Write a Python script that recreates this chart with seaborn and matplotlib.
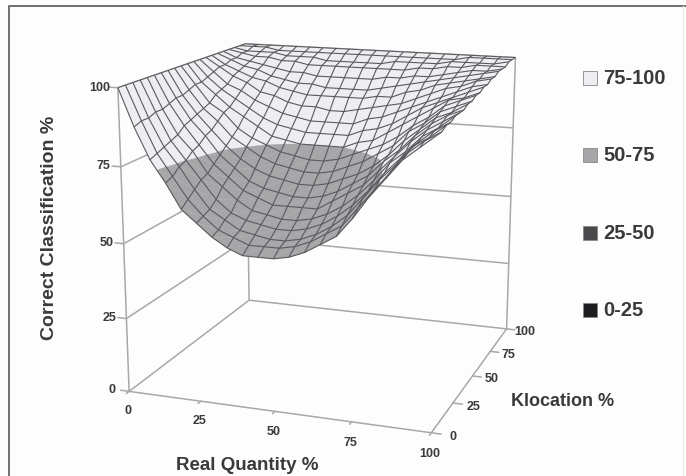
import numpy as np
import pandas as pd
import matplotlib
matplotlib.use("Agg")
import matplotlib.pyplot as plt
from matplotlib.lines import Line2D
from matplotlib.patches import Rectangle
from mpl_toolkits.mplot3d.art3d import Poly3DCollection
import seaborn as sns

sns.set_style("white")
plt.rcParams["font.family"] = ["Liberation Sans", "DejaVu Sans"]

real_quantity = [0, 5, 10, 15, 20, 25, 30, 35, 40, 45, 50, 55, 60, 65, 70, 75, 80, 85, 90, 95, 100]
klocation = [0, 5, 10, 15, 20, 25, 30, 35, 40, 45, 50, 55, 60, 65, 70, 75, 80, 85, 90, 95, 100]

# one row per klocation value
correct_pct = [
    [100, 88, 78, 71, 63, 59, 55, 52, 50, 50, 50, 51, 53, 56, 59, 65, 72, 78, 84, 88, 92],
    [100, 89, 79, 72, 65, 60, 56, 54, 52, 52, 52, 53, 55, 58, 61, 67, 73, 79, 85, 89, 92],
    [100, 89, 80, 74, 67, 61, 58, 55, 54, 53, 53, 54, 56, 59, 63, 69, 75, 80, 86, 89, 93],
    [100, 90, 81, 75, 69, 63, 59, 57, 56, 55, 55, 56, 58, 61, 65, 70, 76, 81, 86, 90, 93],
    [100, 90, 82, 77, 70, 66, 62, 59, 58, 57, 57, 58, 60, 63, 67, 72, 78, 82, 87, 90, 94],
    [100, 91, 84, 78, 72, 68, 64, 62, 60, 60, 60, 60, 63, 66, 69, 74, 79, 84, 88, 91, 94],
    [100, 92, 85, 80, 74, 70, 66, 64, 63, 62, 62, 63, 65, 68, 71, 76, 80, 85, 89, 92, 94],
    [100, 92, 86, 81, 76, 72, 69, 67, 66, 65, 65, 66, 68, 70, 73, 77, 82, 86, 90, 92, 95],
    [100, 93, 87, 83, 78, 75, 72, 70, 69, 68, 68, 69, 71, 73, 76, 79, 84, 87, 91, 93, 95],
    [100, 94, 88, 85, 80, 77, 75, 73, 72, 71, 71, 72, 74, 76, 78, 81, 85, 88, 92, 94, 96],
    [100, 94, 90, 86, 83, 80, 77, 76, 75, 75, 75, 75, 77, 78, 81, 84, 87, 90, 93, 94, 96],
    [100, 95, 91, 88, 85, 82, 80, 79, 78, 78, 78, 78, 80, 81, 83, 86, 89, 91, 93, 95, 97],
    [100, 96, 92, 90, 87, 85, 83, 82, 81, 81, 81, 81, 83, 84, 86, 88, 90, 92, 94, 96, 97],
    [100, 97, 94, 92, 89, 88, 86, 85, 85, 84, 84, 85, 86, 87, 88, 90, 92, 94, 95, 97, 98],
    [100, 97, 95, 93, 92, 90, 89, 88, 88, 88, 88, 88, 89, 89, 91, 92, 94, 95, 96, 97, 98],
    [100, 98, 96, 95, 93, 92, 91, 91, 90, 90, 90, 90, 91, 92, 93, 94, 95, 96, 97, 98, 99],
    [100, 98, 97, 96, 95, 94, 94, 93, 93, 93, 93, 93, 94, 94, 95, 95, 96, 97, 98, 98, 99],
    [100, 99, 98, 98, 97, 97, 96, 96, 96, 96, 96, 96, 96, 96, 97, 97, 98, 98, 99, 99, 99],
    [100, 99, 99, 99, 98, 98, 98, 97, 97, 97, 97, 97, 98, 98, 98, 98, 99, 99, 99, 99, 100],
    [100, 100, 100, 99, 99, 99, 99, 99, 99, 99, 99, 99, 99, 99, 99, 99, 99, 100, 100, 100, 100],
    [100, 100, 100, 100, 100, 100, 100, 100, 100, 100, 100, 100, 100, 100, 100, 100, 100, 100, 100, 100, 100],
]

x_ticks = [0, 25, 50, 75, 100]
y_ticks = [0, 25, 50, 75, 100]
z_ticks = [0, 25, 50, 75, 100]
band_labels = ["75-100", "50-75", "25-50", "0-25"]
band_colors = ["#eeeef2", "#a6a6a8", "#4a4a4c", "#1c1c1e"]
text_color = "#3a3a3a"


def split_cell(corners, level):
    # cut one mesh cell along a z level, returns part above and part below
    above, below = [], []
    for i in range(len(corners)):
        p, q = np.array(corners[i]), np.array(corners[(i + 1) % len(corners)])
        if p[2] >= level:
            above.append(p)
        if p[2] <= level:
            below.append(p)
        if (p[2] - level) * (q[2] - level) < 0:
            cut = p + (q - p) * (level - p[2]) / (q[2] - p[2])
            above.append(cut)
            below.append(cut)
    return above, below


def fan(points):
    return [[points[0], points[k], points[k + 1]] for k in range(1, len(points) - 1)]


def draw_surface(ax, df):
    table = df.pivot(index="klocation", columns="quantity", values="correct")
    X, Y = np.meshgrid(table.columns.values, table.index.values)
    Z = table.values.astype(float)

    polys, colors = [], []
    for j in range(Z.shape[0] - 1):
        for i in range(Z.shape[1] - 1):
            cell = [(X[j, i], Y[j, i], Z[j, i]), (X[j, i + 1], Y[j, i + 1], Z[j, i + 1]),
                    (X[j + 1, i + 1], Y[j + 1, i + 1], Z[j + 1, i + 1]), (X[j + 1, i], Y[j + 1, i], Z[j + 1, i])]
            above, below = split_cell(cell, 75)
            for part, color in ((above, band_colors[0]), (below, band_colors[1])):
                if len(part) > 2:
                    tris = fan(part)
                    polys += tris
                    colors += [color] * len(tris)
    ax.add_collection3d(Poly3DCollection(polys, facecolors=colors, edgecolors=colors, linewidths=0.2, zorder=3))
    ax.plot_wireframe(X, Y, Z, rstride=1, cstride=1, color="#5a5a5e", linewidth=0.8, zorder=4)


def draw_box(ax):
    line = dict(color="#a8a8a8", linewidth=1.1, zorder=1)
    for z in z_ticks:
        ax.plot([0, 0, 100], [0, 100, 100], [z, z, z], **line)
    ax.plot([0, 0], [0, 0], [0, 100], **line)
    ax.plot([0, 0], [100, 100], [0, 100], **line)
    ax.plot([100, 100], [100, 100], [0, 100], **line)
    ax.plot([0, 100, 100], [0, 0, 100], [0, 0, 0], **line)

    tick = dict(fontsize=9, fontweight="bold", color=text_color, ha="center", va="center")
    for v in x_ticks:
        ax.plot([v, v], [0, -2], [0, 0], **line)
        ax.text(v, -1.5, -6, str(v), **tick)
    for v in y_ticks:
        ax.plot([100, 103], [v, v], [0, 0], **line)
        ax.text(106.5, v, 0, str(v), **tick)
    for v in z_ticks:
        ax.plot([0, -3], [0, 0], [v, v], **line)
        ax.text(-6, 0, v, str(v), **tick)


if __name__ == "__main__":

    df = pd.DataFrame(correct_pct, index=klocation, columns=real_quantity)
    df = df.rename_axis(index="klocation", columns="quantity").stack().reset_index(name="correct")

    fig = plt.figure(figsize=(6.86, 4.77), dpi=100, facecolor="#fdfdfd")
    ax = fig.add_axes([0.1016, -0.0042, 0.736, 1.0587], projection="3d", facecolor="none")
    ax.computed_zorder = False
    ax.set_proj_type("persp", focal_length=0.54)
    ax.view_init(elev=14.8, azim=-70.5)
    ax.set_box_aspect((1, 1, 0.98))
    ax.set_xlim(0, 100)
    ax.set_ylim(0, 100)
    ax.set_zlim(0, 100)
    ax.set_axis_off()

    draw_box(ax)
    draw_surface(ax, df)

    fig.text(247 / 686, 1 - 466 / 477, "Real Quantity %", fontsize=13.5, fontweight="bold", color=text_color, ha="center", va="center")
    fig.text(563 / 686, 1 - 402 / 477, "Klocation %", fontsize=13, fontweight="bold", color=text_color, ha="center", va="center")
    fig.text(50 / 686, 1 - 228 / 477, "Correct Classification %", fontsize=14, fontweight="bold", color=text_color,
             rotation=90, ha="center", va="center")

    for label, color, ypix in zip(band_labels, band_colors, [79, 156, 234, 311]):
        fig.add_artist(Rectangle((583 / 686, 1 - (ypix + 7) / 477), 14 / 686, 14 / 477, transform=fig.transFigure,
                                 facecolor=color, edgecolor="#888888", linewidth=0.6))
        fig.text(603 / 686, 1 - ypix / 477, label, fontsize=14.5, fontweight="bold", color=text_color, va="center")

    # scanned page frame
    fig.add_artist(Line2D([9 / 686, 9 / 686, 1], [0, 1 - 7 / 477, 1 - 7 / 477], transform=fig.transFigure,
                          color="#707070", linewidth=1.4))
    fig.add_artist(Line2D([683 / 686, 683 / 686], [0, 1 - 7 / 477], transform=fig.transFigure,
                          color="#ececec", linewidth=1.0))

    plt.savefig("out.png", dpi=100, facecolor=fig.get_facecolor())
